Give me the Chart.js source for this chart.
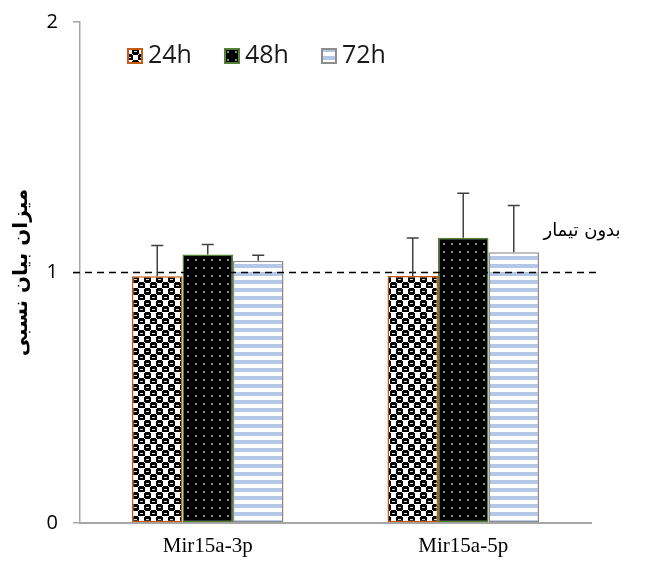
<!DOCTYPE html>
<html>
<head>
<meta charset="utf-8">
<script src="https://cdn.jsdelivr.net/npm/chart.js@4/dist/chart.umd.min.js"></script>
<style>
html,body{margin:0;padding:0;background:#fff;}
#wrap{width:652px;height:563px;position:relative;}
</style>
</head>
<body>
<div id="wrap"><canvas id="c"></canvas></div>
<script>
const categories = ['Mir15a-3p', 'Mir15a-5p'];
const seriesLabels = ['24h', '48h', '72h'];
const values24 = [0.985, 0.986];
const values48 = [1.072, 1.139];
const values72 = [1.047, 1.081];
const err24 = [0.123, 0.152];
const err48 = [0.040, 0.177];
const err72 = [0.022, 0.186];
const yTicks = [0, 1, 2];
const refValue = 1;
const refLabel = 'بدون تیمار';
const yTitle = 'میزان بیان نسبی';

function makePattern(w, h, draw) {
  const c = document.createElement('canvas');
  c.width = w; c.height = h;
  const g = c.getContext('2d');
  draw(g);
  return g.createPattern(c, 'repeat');
}
const ctxMain = document.getElementById('c').getContext('2d');
const pat24 = makePattern(12, 12, g => {
  g.fillStyle = '#fff'; g.fillRect(0, 0, 12, 12);
  g.fillStyle = '#000';
  g.fillRect(0, 1, 7, 5); g.fillRect(1, 0, 5, 7);
  g.fillRect(6, 7, 7, 5); g.fillRect(7, 6, 5, 7);
  g.fillRect(0, 7, 1, 5); g.fillRect(6, 1, 1, 5);
  g.fillStyle = '#d8d8d8';
  g.fillRect(2, 3, 3, 1); g.fillRect(8, 9, 3, 1);
});
const pat48 = makePattern(8, 8, g => {
  g.fillStyle = '#000'; g.fillRect(0, 0, 8, 8);
  g.fillStyle = '#8a8a8a'; g.fillRect(3, 3, 2, 2);
});
const pat72 = makePattern(8, 8, g => {
  g.fillStyle = '#fff'; g.fillRect(0, 0, 8, 8);
  g.fillStyle = '#b4c7e7'; g.fillRect(0, 0, 8, 4);
});

const seriesValues = [values24, values48, values72];
const seriesErrors = [err24, err48, err72];
const seriesFill = [pat24, pat48, pat72];
const seriesBorder = ['#c55a11', '#548235', '#8c8c8c'];

const datasets = seriesLabels.map((lab, i) => ({
  label: lab,
  data: seriesValues[i],
  errors: seriesErrors[i],
  backgroundColor: seriesFill[i],
  borderColor: seriesBorder[i],
  borderWidth: 1.5,
  borderSkipped: false,
  barPercentage: 1,
  categoryPercentage: 0.593
}));

const extras = {
  id: 'extras',
  afterDatasetsDraw(chart) {
    const ctx = chart.ctx;
    const y = chart.scales.y;
    const area = chart.chartArea;
    const yr = y.getPixelForValue(refValue);
    ctx.save();
    ctx.strokeStyle = '#000';
    ctx.lineWidth = 1.5;
    ctx.setLineDash([7, 5]);
    ctx.beginPath();
    ctx.moveTo(area.left - 7, yr);
    ctx.lineTo(area.right + 6, yr);
    ctx.stroke();
    ctx.setLineDash([]);
    ctx.strokeStyle = '#404040';
    ctx.lineWidth = 1.5;
    chart.data.datasets.forEach((ds, di) => {
      const meta = chart.getDatasetMeta(di);
      meta.data.forEach((bar, j) => {
        const top = y.getPixelForValue(ds.data[j]);
        const hi = y.getPixelForValue(ds.data[j] + ds.errors[j]);
        ctx.beginPath();
        ctx.moveTo(bar.x, top);
        ctx.lineTo(bar.x, hi);
        ctx.moveTo(bar.x - 6, hi);
        ctx.lineTo(bar.x + 6, hi);
        ctx.stroke();
      });
    });
    ctx.fillStyle = '#000';
    ctx.font = '18px "DejaVu Sans", "Noto Sans", sans-serif';
    ctx.textAlign = 'center';
    ctx.textBaseline = 'middle';
    ctx.fillText(refLabel, area.right - 9, yr - 41);
    const lx = [127, 224, 321];
    const ly = 48;
    ctx.font = '25px "Open Sans", sans-serif';
    ctx.textAlign = 'left';
    ctx.textBaseline = 'middle';
    chart.data.datasets.forEach((ds, i) => {
      ctx.fillStyle = ds.backgroundColor;
      ctx.fillRect(lx[i], ly, 16, 16);
      ctx.strokeStyle = ds.borderColor;
      ctx.lineWidth = 2;
      ctx.strokeRect(lx[i] + 1, ly + 1, 14, 14);
      ctx.fillStyle = '#1a1a1a';
      ctx.fillText(ds.label, lx[i] + 21, ly + 8);
    });
    ctx.save();
    ctx.translate(22, (area.top + area.bottom) / 2);
    ctx.rotate(-Math.PI / 2);
    ctx.font = 'bold 20px "DejaVu Sans", "Noto Sans", sans-serif';
    ctx.textAlign = 'center';
    ctx.textBaseline = 'middle';
    ctx.fillStyle = '#000';
    ctx.fillText(yTitle, 0, 0);
    ctx.restore();
    ctx.restore();
  }
};

new Chart(ctxMain, {
  type: 'bar',
  data: { labels: categories, datasets },
  options: {
    responsive: true,
    maintainAspectRatio: false,
    animation: false,
    layout: { padding: { top: 22, right: 61, left: 0, bottom: 0 } },
    plugins: { legend: { display: false }, tooltip: { enabled: false } },
    scales: {
      x: {
        grid: { display: false },
        border: { display: true, color: '#a6a6a6', width: 2 },
        ticks: { color: '#000', font: { family: '"Liberation Serif", serif', size: 21 }, padding: 3 },
        afterFit: s => { s.height = 40; s.paddingLeft = 0; s.paddingRight = 0; }
      },
      y: {
        min: 0, max: 2,
        afterBuildTicks: s => { s.ticks = yTicks.map(v => ({ value: v })); },
        grid: { drawOnChartArea: false, drawTicks: true, tickLength: 7, color: '#a6a6a6', lineWidth: 1.5 },
        border: { display: true, color: '#a6a6a6', width: 1.5 },
        ticks: { color: '#000', font: { family: '"Open Sans", sans-serif', size: 20 }, padding: 15 },
        afterFit: s => { s.width = 80; s.paddingTop = 0; s.paddingBottom = 0; }
      }
    }
  },
  plugins: [extras]
});
</script>
</body>
</html>
